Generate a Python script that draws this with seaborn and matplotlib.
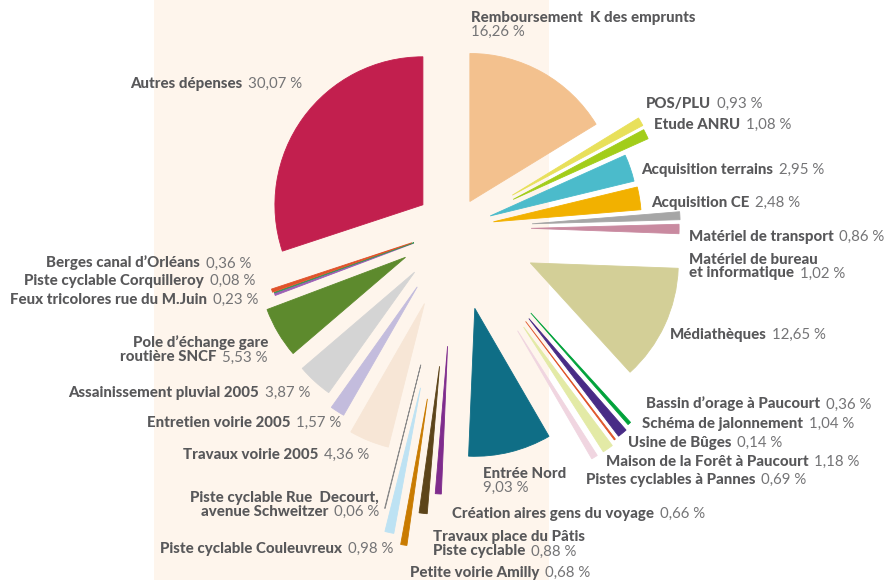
import matplotlib
matplotlib.use("Agg")
import matplotlib.pyplot as plt
import seaborn as sns
from matplotlib.offsetbox import TextArea, HPacker, VPacker, AnnotationBbox

# ---------------- data ----------------
categories = [
    "Remboursement  K des emprunts", "POS/PLU", "Etude ANRU", "Acquisition terrains",
    "Acquisition CE", "Matériel de transport", "Matériel de bureau\net informatique",
    "Médiathèques", "Bassin d’orage à Paucourt", "Schéma de jalonnement",
    "Usine de Bûges", "Maison de la Forêt à Paucourt", "Pistes cyclables à Pannes",
    "Entrée Nord", "Création aires gens du voyage", "Travaux place du Pâtis\nPiste cyclable",
    "Petite voirie Amilly", "Piste cyclable Couleuvreux",
    "Piste cyclable Rue  Decourt,\navenue Schweitzer", "Travaux voirie 2005",
    "Entretien voirie 2005", "Assainissement pluvial 2005",
    "Pole d’échange gare\nroutière SNCF", "Feux tricolores rue du M.Juin",
    "Piste cyclable Corquilleroy", "Berges canal d’Orléans", "Autres dépenses",
]
shares = [16.26, 0.93, 1.08, 2.95, 2.48, 0.86, 1.02, 12.65, 0.36, 1.04, 0.14, 1.18, 0.69,
          9.03, 0.66, 0.88, 0.68, 0.98, 0.06, 4.36, 1.57, 3.87, 5.53, 0.23, 0.08, 0.36, 30.07]

# ---------------- styles / layout ----------------
colors = ["#F3C18E", "#E8E05A", "#A2CD1A", "#4BBBCB", "#F2B100", "#A6A6A6", "#C98AA0",
          "#D3CF97", "#00A23A", "#482B86", "#E0562A", "#E3EAA6", "#F0D5E0", "#0F6E86",
          "#7F2C8D", "#5C4419", "#C97B00", "#BDE2F3", "#8C8C8C", "#F7E6D6", "#C3BCDD",
          "#D4D4D4", "#5D8A2D", "#9C5FB5", "#3A9A5A", "#E0522A", "#C21F4E"]
# radial offsets of each slice (in pixels)
explode = [30.4, 66, 64.8, 37.2, 38.9, 77.2, 76.1, 83, 113.9, 116.8, 117.1, 120.5, 120.3,
           82.7, 118.4, 139.1, 173.1, 163.5, 141, 81.5, 69.9, 59.8, 57.5, 44, 43.6, 45.4,
           39.6]
W, H = 894, 580
center = (455, H - 228)
radius = 148

# label anchors in pixel coordinates (x, y from top), alignment, percent on new line
label_layout = [
    (471, 25, "left", True), (646, 104, "left", False), (654, 125, "left", False),
    (641, 170, "left", False), (651, 203, "left", False), (689, 237, "left", False),
    (689, 266.5, "left", False), (670, 335, "left", False), (646, 404, "left", False),
    (642, 424, "left", False), (628, 443, "left", False), (606, 462, "left", False),
    (586, 480, "left", False), (483, 480.5, "left", True), (452, 514, "left", False),
    (433, 544.5, "left", False), (410, 573, "left", False), (393, 549, "right", False),
    (379, 505, "right", False), (369, 455, "right", False), (341, 423, "right", False),
    (310, 393, "right", False), (268, 350, "right", False), (258, 300, "right", False),
    (255, 281, "right", False), (251, 263, "right", False), (302, 84, "right", False),
]

sns.set_theme(style="white")
plt.rcParams["font.family"] = ["Lato", "DejaVu Sans"]

fig = plt.figure(figsize=(W / 100, H / 100), dpi=100)
ax = fig.add_axes([0, 0, 1, 1])

wedges, _ = ax.pie(shares, colors=colors, explode=explode, startangle=90,
                   counterclock=False, radius=radius, center=center,
                   wedgeprops=dict(linewidth=0.6))
for w, c in zip(wedges, colors):
    w.set_edgecolor(c)
    w.set_zorder(3)

# cream background band
ax.axvspan(154, 549, color="#FEF5EC", zorder=0, lw=0)

name_color = "#58585A"
pct_color = "#747476"
fs = 10.8
bold_props = dict(fontsize=fs, fontweight="black", color=name_color)
reg_props = dict(fontsize=fs, fontweight="normal", color=pct_color)

for name, val, (lx, ly, align, pct_newline) in zip(categories, shares, label_layout):
    pct = f"{val:.2f}".replace(".", ",") + " %"
    lines = name.split("\n")
    rows = [TextArea(t, textprops=bold_props) for t in lines[:-1]]
    last = TextArea(lines[-1], textprops=bold_props)
    if pct_newline:
        rows.append(last)
        rows.append(TextArea(pct, textprops=reg_props))
    else:
        rows.append(HPacker(children=[last, TextArea(pct, textprops=reg_props)],
                            align="baseline", pad=0, sep=4))
    box = VPacker(children=rows, align=align, pad=0, sep=0) if len(rows) > 1 else rows[0]
    ab = AnnotationBbox(box, (lx, H - ly), xycoords="data",
                        box_alignment=(0 if align == "left" else 1, 0.5),
                        frameon=False, pad=0, zorder=5)
    ax.add_artist(ab)

ax.set_xlim(0, W)
ax.set_ylim(0, H)
ax.set_aspect("equal")
ax.axis("off")

fig.savefig("out.png", dpi=100, facecolor="white")
